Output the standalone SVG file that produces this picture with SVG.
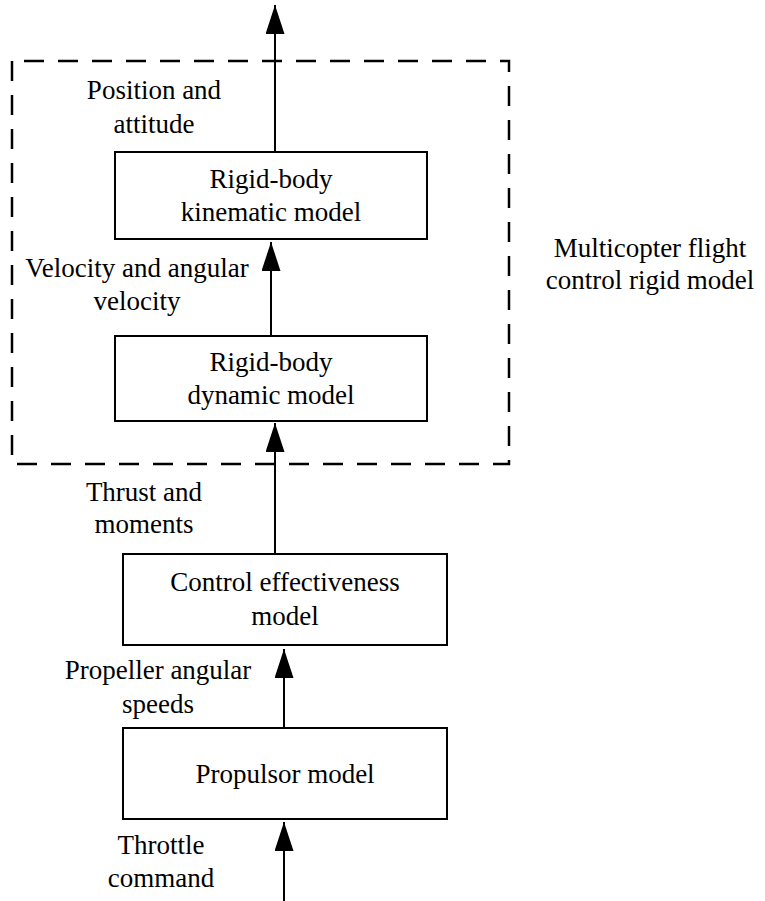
<svg xmlns="http://www.w3.org/2000/svg" width="765" height="901" viewBox="0 0 765 901">
<style>
.t{font-family:'Liberation Serif','Times New Roman',serif;font-size:27px;fill:#000;text-anchor:middle}
.box{fill:#fff;stroke:#000;stroke-width:2}
.conn{stroke:#000;stroke-width:2;fill:none}
.dash{stroke:#000;stroke-width:2.5;fill:none;stroke-dasharray:20 14}
</style>
<defs>
<marker id="ah" markerUnits="userSpaceOnUse" markerWidth="29" markerHeight="19" refX="29" refY="9.5" orient="auto" viewBox="0 0 29 19">
<path d="M0 0 L29 9.5 L0 19 Z" fill="#000"/>
</marker>
</defs>
<path id="group-boundary" class="dash" d="M12 61 H509 V464 H12 Z" stroke-dashoffset="-12"/>
<g id="connectors">
<line class="conn" x1="275" y1="152" x2="275" y2="5" marker-end="url(#ah)"/>
<line class="conn" x1="271" y1="336" x2="271" y2="242" marker-end="url(#ah)"/>
<line class="conn" x1="275" y1="554" x2="275" y2="423" marker-end="url(#ah)"/>
<line class="conn" x1="284" y1="728" x2="284" y2="649" marker-end="url(#ah)"/>
<line class="conn" x1="284" y1="901" x2="284" y2="822" marker-end="url(#ah)"/>
</g>
<g id="kinematic">
<rect class="box" x="115" y="152" width="312" height="87"/>
<text class="t" x="271" y="188">Rigid-body</text>
<text class="t" x="271" y="221">kinematic model</text>
</g>
<g id="dynamic">
<rect class="box" x="115" y="336" width="312" height="85"/>
<text class="t" x="271" y="371">Rigid-body</text>
<text class="t" x="271" y="404">dynamic model</text>
</g>
<g id="control">
<rect class="box" x="123" y="554" width="324" height="91"/>
<text class="t" x="285" y="591">Control effectiveness</text>
<text class="t" x="285" y="625">model</text>
</g>
<g id="propulsor">
<rect class="box" x="123" y="728" width="324" height="91"/>
<text class="t" x="285" y="783">Propulsor model</text>
</g>
<g id="labels">
<text class="t" x="154" y="99">Position and</text>
<text class="t" x="154" y="133">attitude</text>
<text class="t" x="137" y="277">Velocity and angular</text>
<text class="t" x="137" y="310">velocity</text>
<text class="t" x="144" y="501">Thrust and</text>
<text class="t" x="144" y="533">moments</text>
<text class="t" x="158" y="679">Propeller angular</text>
<text class="t" x="158" y="713">speeds</text>
<text class="t" x="161" y="854">Throttle</text>
<text class="t" x="161" y="887">command</text>
<text class="t" x="650" y="257">Multicopter flight</text>
<text class="t" x="650" y="289">control rigid model</text>
</g>
</svg>
